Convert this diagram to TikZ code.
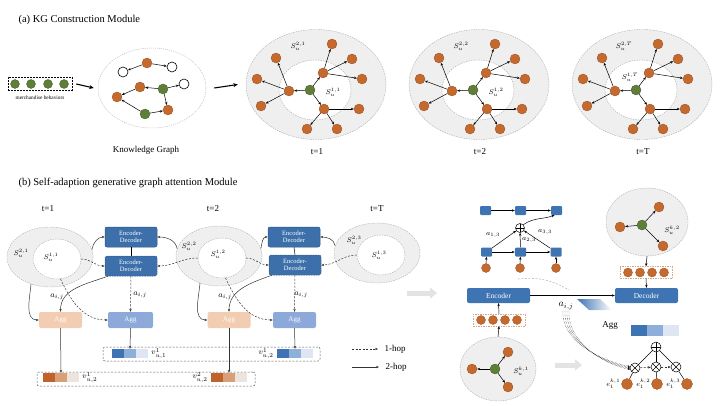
\documentclass[tikz,border=0pt]{standalone}
\usepackage{fontspec}
\setmainfont{Liberation Serif}
\usetikzlibrary{arrows.meta, positioning, calc, shapes.geometric}

\definecolor{nodeOrange}{HTML}{C46A2E}
\definecolor{nodeOrangeDark}{HTML}{9C4C1C}
\definecolor{nodeGreen}{HTML}{5F7F38}
\definecolor{nodeGreenDark}{HTML}{40592A}
\definecolor{ringGray}{HTML}{EFEFEF}
\definecolor{edBlue}{HTML}{3D70AA}
\definecolor{edBlueDark}{HTML}{2A5585}
\definecolor{sqBlue}{HTML}{3F74B3}
\definecolor{aggPeach}{HTML}{F2CDB2}
\definecolor{aggBlue}{HTML}{8DA9DA}
\definecolor{barBlueA}{HTML}{3E74B2}
\definecolor{barBlueB}{HTML}{8EAFD9}
\definecolor{barBlueC}{HTML}{DDE6F2}
\definecolor{barOrA}{HTML}{C0622A}
\definecolor{barOrB}{HTML}{D9A077}
\definecolor{barOrC}{HTML}{EDE4DE}

\begin{document}
\begin{tikzpicture}[
    x=1pt, y=1pt,
    font=\fontsize{8}{9}\selectfont,
    orn/.style={circle, fill=nodeOrange, draw=nodeOrangeDark, line width=0.3pt, inner sep=0pt, minimum size=10pt},
    grn/.style={orn, fill=nodeGreen, draw=nodeGreenDark},
    wht/.style={orn, fill=white, draw=black, line width=0.6pt},
    arr/.style={-{Stealth[length=3pt, width=2.4pt]}, line width=0.5pt},
    bigArr/.style={-{Stealth[length=4.5pt, width=4pt]}, line width=1.1pt},
    ringOut/.style={ellipse, inner sep=0pt, fill=ringGray, draw=gray!65, dash pattern=on 1.5pt off 1pt, line width=0.4pt},
    ringIn/.style={ringOut, fill=white},
    lblS/.style={font=\fontsize{7}{8}\selectfont, inner sep=0pt},
    lblA/.style={font=\fontsize{8.5}{9}\selectfont, inner sep=0pt},
    tLbl/.style={font=\fontsize{9}{10}\selectfont},
    edBox/.style={rounded corners=2pt, fill=edBlue, draw=edBlueDark, line width=0.5pt, text=white, align=center, inner sep=0pt, minimum width=52pt, minimum height=20pt, font=\fontsize{6.5}{7.5}\selectfont},
    edDash/.style={edBox, dash pattern=on 1.5pt off 1pt},
    aggBox/.style={rounded corners=2pt, text=white, inner sep=0pt, minimum height=16pt, font=\fontsize{7}{8}\selectfont},
    codeBox/.style={rounded corners=2pt, fill=sqBlue, text=white, inner sep=0pt, minimum width=63pt, minimum height=15pt, font=\fontsize{7.5}{8}\selectfont},
    hopOne/.style={arr, dash pattern=on 2pt off 1.5pt, draw=black!80},
    hopTwo/.style={arr, draw=black!80},
    seg/.style={rectangle, inner sep=0pt, minimum width=12pt, minimum height=9pt},
    barBox/.style={rectangle, rounded corners=2pt, draw=gray!70!black, dash pattern=on 2pt off 1.5pt, line width=0.5pt, inner sep=0pt},
    inBox/.style={rectangle, draw=nodeOrange!60, dash pattern=on 1.5pt off 1pt, line width=0.5pt, inner sep=0pt, minimum width=52pt, minimum height=12pt},
    blockArr/.style={line width=5pt, draw=gray!22, -{Triangle[length=7pt, width=11pt]}},
    sqBox/.style={rectangle, rounded corners=1pt, fill=sqBlue, inner sep=0pt, minimum width=11pt, minimum height=9pt},
    opPlus/.style={circle, draw, line width=0.5pt, fill=white, inner sep=0pt, minimum size=9pt,
        path picture={\draw[line width=0.5pt] (path picture bounding box.north) -- (path picture bounding box.south)
            (path picture bounding box.west) -- (path picture bounding box.east);}},
    opTimes/.style={circle, draw, line width=0.5pt, fill=white, inner sep=0pt, minimum size=9pt,
        path picture={\draw[line width=0.5pt] (path picture bounding box.north west) -- (path picture bounding box.south east)
            (path picture bounding box.south west) -- (path picture bounding box.north east);}}
]
\useasboundingbox (0,0) rectangle (722,-406);

% (a) KG construction
\node[anchor=west, font=\fontsize{10.5}{12}\selectfont] (titleA) at (15,-20) {(a) KG Construction Module};

\node[draw, line width=0.5pt, dash pattern=on 2pt off 1pt, inner sep=0pt, minimum width=64pt, minimum height=13pt] (behav) at (40,-84) {};
\foreach \x [count=\i] in {15,31,48,64}
    \node[grn, minimum size=9pt] (beh\i) at (\x,-84) {};
\node[font=\fontsize{5.3}{6}\selectfont, below=1.5pt of behav] (behavLbl) {merchandise behaviors};

\node[ellipse, draw=gray!55, dash pattern=on 1pt off 1pt, line width=0.5pt, minimum width=108pt, minimum height=80pt, inner sep=0pt] (kg) at (152,-88) {};
\node[orn] (kg1) at (147,-63) {};
\node[wht] (kg2) at (172,-67) {};
\node[wht] (kg3) at (123,-72) {};
\node[orn] (kg4) at (140,-87) {};
\node[grn] (kg5) at (163,-89) {};
\node[wht] (kg6) at (184,-84) {};
\node[orn] (kg7) at (117,-97) {};
\node[orn] (kg8) at (168,-110) {};
\node[grn] (kg9) at (145,-114) {};
\foreach \a/\b in {kg1/kg2, kg1/kg3, kg5/kg4, kg5/kg6, kg4/kg7, kg9/kg7, kg5/kg8, kg9/kg8}
    \draw[arr] (\a) -- (\b);
\node[tLbl] (kgLbl) at (146,-150) {Knowledge Graph};
\draw[bigArr] ([xshift=4pt]behav.east) -- ([xshift=-4pt]kg.west);

% hop rings for each time step
\foreach \cx/\tn/\lx/\ly in {316/1/17/92, 479/2/17/92, 642/T/-12/77} {
    \node[ringOut, minimum width=140pt, minimum height=110pt] (ro\tn) at (\cx,-84.5) {};
    \node[ringIn, minimum width=72pt, minimum height=60pt] (ri\tn) at (\cx-1,-90) {};
    \node[grn] (c\tn) at (\cx-6,-90) {};
    \node[orn] (h\tn-a) at (\cx-27,-91) {};
    \node[orn] (h\tn-b) at (\cx+7,-73) {};
    \node[orn] (h\tn-c) at (\cx+8,-109) {};
    \foreach \h in {a,b,c}
        \draw[arr] (c\tn) -- (h\tn-\h);
    \foreach \h/\dx/\dy [count=\k] in {a/-40/58, a/-59/79, a/-55/106, b/16/44, b/36/59, b/46/79, c/43/109, c/-9/129, c/21/129} {
        \node[orn] (l\tn-\k) at (\cx+\dx,-\dy) {};
        \draw[arr] (h\tn-\h) -- (l\tn-\k);
    }
    \node[lblS] (so\tn) at (\cx-18,-46) {$S_u^{2,\tn}$};
    \node[lblS] (si\tn) at (\cx+\lx,-\ly) {$S_u^{1,\tn}$};
    \node[tLbl] (tl\tn) at (\cx+1,-152) {t=\tn};
}
\draw[bigArr] ([xshift=8pt]kg.east) -- ([xshift=-8pt]ro1.west);

% (b) self-adaption generative graph attention
\node[anchor=west, font=\fontsize{10.5}{12}\selectfont] (titleB) at (15,-183) {(b) Self-adaption generative graph attention Module};
\node[tLbl] (tb1) at (48,-209) {t=1};
\node[tLbl] (tb2) at (213,-209) {t=2};
\node[tLbl] (tb3) at (377,-209) {t=T};

\foreach \n/\ox/\oy/\ix/\iy/\ax/\ay/\bx/\by in {1/50/257/57/259/21/253/51/257, 2/219/256/222/258/189/246/218/254, 3/377/253/381/255/354/240/379/255} {
    \node[ringOut, minimum width=86pt, minimum height=60pt] (eo\n) at (\ox,-\oy) {};
    \node[ringIn, minimum width=48pt, minimum height=40pt] (ei\n) at (\ix,-\iy) {};
    \node[lblS] (eso\n) at (\ax,-\ay) {$S_u^{2,\n}$};
    \node[lblS] (esi\n) at (\bx,-\by) {$S_u^{1,\n}$};
}

\node[edBox] (ed1t) at (131,-237) {Encoder-\\Decoder};
\node[edDash] (ed1b) at (131,-266) {Encoder-\\Decoder};
\node[edBox] (ed2t) at (294,-237) {Encoder-\\Decoder};
\node[edDash] (ed2b) at (295,-265) {Encoder-\\Decoder};
\draw[line width=0.5pt] (ed1t.south) -- (ed1b.north);
\draw[line width=0.5pt] (ed2t.south) -- (ed2b.north);

\draw[hopTwo] (eo1.10) to[out=80, in=180] (ed1t.west);
\draw[hopTwo] (eo2.170) to[out=100, in=0] (ed1t.east);
\draw[hopOne] (ei1.east) to[out=0, in=180] (ed1b.west);
\draw[hopOne] (ei2.west) to[out=180, in=0] (ed1b.east);
\draw[hopTwo] (eo2.10) to[out=80, in=180] (ed2t.west);
\draw[hopTwo] (eo3.170) to[out=100, in=0] (ed2t.east);
\draw[hopOne] (ei2.east) to[out=0, in=180] (ed2b.west);
\draw[hopOne] (ei3.west) to[out=180, in=0] (ed2b.east);

\node[aggBox, fill=aggPeach, minimum width=43pt] (agg1) at (60.5,-320) {Agg};
\node[aggBox, fill=aggBlue, minimum width=45pt] (agg2) at (130.5,-320) {Agg};
\node[aggBox, fill=aggPeach, minimum width=43pt] (agg3) at (229,-320) {Agg};
\node[aggBox, fill=aggBlue, minimum width=43pt] (agg4) at (294.5,-320) {Agg};

\draw[hopTwo] (eo1.235) to[out=-95, in=180] (agg1.west);
\draw[hopTwo] ([xshift=3pt]ed1b.south west) to[out=200, in=90] (agg1.north);
\draw[hopOne] (ei1.280) to[out=-65, in=180] (agg2.west);
\draw[hopOne] (ed1b.south) -- (agg2.north);
\draw[hopTwo] (eo2.235) to[out=-95, in=180] (agg3.west);
\draw[hopTwo] ([xshift=3pt]ed2b.south west) to[out=200, in=90] (agg3.north);
\draw[hopOne] (ei2.280) to[out=-65, in=180] (agg4.west);
\draw[hopOne] (ed2b.south) -- (agg4.north);

\node[lblA] (aij1) at (57,-297) {$a_{i,j}$};
\node[lblA] (aij2) at (140,-295) {$a_{i,j}$};
\node[lblA] (aij3) at (225,-297) {$a_{i,j}$};
\node[lblA] (aij4) at (301,-295) {$a_{i,j}$};

% output vectors
\node[barBox, minimum width=217pt, minimum height=14pt] (vBlue) at (211.5,-354) {};
\node[barBox, minimum width=218pt, minimum height=14pt] (vOr) at (146,-379) {};
\foreach \c [count=\i] in {barBlueA,barBlueB,barBlueC} {
    \node[seg, fill=\c] (pa\i) at (106+12*\i,-353.5) {};
    \node[seg, fill=\c] (pb\i) at (271+12*\i,-353.5) {};
}
\foreach \c [count=\i] in {barOrA,barOrB,barOrC} {
    \node[seg, fill=\c] (qa\i) at (37+12*\i,-377.5) {};
    \node[seg, fill=\c] (qb\i) at (205+12*\i,-377.5) {};
}
\draw[hopTwo] (agg2.south) -- (pa2.north);
\draw[hopTwo] (agg4.south) -- (pb2.north);
\draw[hopTwo] (agg1.south) -- (qa2.north);
\draw[hopTwo] (agg3.south) -- (qb2.north);
\node[lblA, right=3pt of pa3] (va) {$v_{u,1}^{1}$};
\node[lblA, left=3pt of pb1] (vb) {$v_{u,2}^{1}$};
\node[lblA, right=3pt of qa3] (vc) {$v_{u,2}^{1}$};
\node[lblA, left=3pt of qb1] (vd) {$v_{u,2}^{2}$};

% legend
\coordinate (lg1s) at (352,-349);
\coordinate (lg1e) at (378,-349);
\coordinate (lg2s) at (352,-367);
\coordinate (lg2e) at (379,-367);
\draw[hopOne] (lg1s) -- (lg1e);
\draw[hopTwo] (lg2s) -- (lg2e);
\node[tLbl, right=3pt of lg1e] (lg1t) {1-hop};
\node[tLbl, right=3pt of lg2e] (lg2t) {2-hop};

% grey transition arrows
\coordinate (ga1s) at (407,-293);
\coordinate (ga1e) at (437,-293);
\coordinate (ga2s) at (555,-365);
\coordinate (ga2e) at (582,-365);
\draw[blockArr] (ga1s) -- (ga1e);
\draw[blockArr] (ga2s) -- (ga2e);

% attention over time steps
\node[sqBox] (tA) at (485.5,-210.5) {};
\node[sqBox] (tB) at (520.5,-210.5) {};
\node[sqBox] (tC) at (556.5,-210.5) {};
\node[sqBox] (mA) at (486.5,-252) {};
\node[sqBox] (mB) at (520.5,-252) {};
\node[sqBox] (mC) at (556,-252) {};
\node[orn, minimum size=9pt] (cA) at (486,-268) {};
\node[orn, minimum size=9pt] (cB) at (520,-268) {};
\node[orn, minimum size=9pt] (cC) at (556,-268) {};
\node[opPlus] (op1) at (520,-228) {};
\foreach \a/\b in {tA/tB, tB/tC, mA/mB, mB/mC, cA/mA, cB/mB, cC/mC, mA/op1, mB/op1, mC/op1}
    \draw[arr] (\a) -- (\b);
\draw[arr] (op1.45) to[out=35, in=200] ([xshift=-2pt]tC.south);
\node[lblS] (a13) at (493,-235) {$a_{1,3}$};
\node[lblS] (a23) at (529,-240) {$a_{2,3}$};
\node[lblS] (a33) at (545,-232) {$a_{3,3}$};

\node[codeBox] (enc) at (498.5,-295.5) {Encoder};
\node[codeBox] (dec) at (646.5,-295.5) {Decoder};
\draw[arr, line width=0.7pt] (enc.east) -- (dec.west);
\node[font=\fontsize{10}{11}\selectfont, inner sep=0pt] (aijR) at (566,-306) {$a_{i,j}$};
\shade[left color=sqBlue, right color=white] (577,-299) -- (600,-299) -- (612,-310) -- (589,-310) -- cycle;

\coordinate (arcS) at (518,-279);
\coordinate (arcE) at (569,-290);
\draw[gray!55, dash pattern=on 2pt off 1.5pt, line width=0.6pt] (arcS) to[bend left=18] (arcE);

\node[tLbl] (aggR) at (610,-325) {Agg};
\foreach \c [count=\i] in {barBlueA,barBlueB,barBlueC}
    \node[seg, fill=\c, minimum width=16pt, minimum height=11pt] (ra\i) at (623+16*\i,-330.5) {};

% decoder side graph
\node[ringOut, minimum width=82pt, minimum height=68pt] (ek2) at (647,-222) {};
\node[grn] (gk2) at (642,-225) {};
\node[orn] (ok2a) at (659,-207) {};
\node[orn] (ok2b) at (620,-227) {};
\node[orn] (ok2c) at (663,-246) {};
\foreach \b in {ok2a, ok2b, ok2c}
    \draw[arr] (gk2) -- (\b);
\node[lblS] (sk2) at (672,-230) {$S_u^{k,2}$};
\node[inBox] (dIn) at (646,-272.5) {};
\foreach \x [count=\i] in {628,640,652,664}
    \node[orn, minimum size=9pt] (dn\i) at (\x,-272.5) {};
\draw[arr] (ek2.south) -- (dIn.north);
\draw[arr] (dIn.south) -- (dec.north);

% encoder side graph
\node[inBox] (eIn) at (499,-320) {};
\foreach \x [count=\i] in {481,493,505,517}
    \node[orn, minimum size=9pt] (en\i) at (\x,-320) {};
\node[ringOut, minimum width=76pt, minimum height=64pt] (ek1) at (498,-369) {};
\node[grn] (gk1) at (495,-369) {};
\node[orn] (ok1a) at (508,-352) {};
\node[orn] (ok1b) at (472,-369) {};
\node[orn] (ok1c) at (508,-387) {};
\foreach \b in {ok1a, ok1b, ok1c}
    \draw[arr] (gk1) -- (\b);
\node[lblS] (sk1) at (521,-371) {$S_u^{k,1}$};
\draw[arr] (ek1.north) -- (eIn.south);
\draw[arr] (eIn.north) -- (enc.south);

% weighted aggregation
\node[opPlus, minimum size=10pt] (op2) at (656,-347) {};
\node[opTimes, minimum size=10pt] (x1) at (635,-368) {};
\node[opTimes, minimum size=10pt] (x2) at (656,-367) {};
\node[opTimes, minimum size=10pt] (x3) at (676,-367) {};
\node[orn, minimum size=11pt] (e1) at (627,-384) {};
\node[orn, minimum size=11pt] (e2) at (657,-384) {};
\node[orn, minimum size=11pt] (e3) at (687,-384) {};
\node[lblS, left=1pt of e1] (el1) {$e_1^{k,1}$};
\node[lblS, left=1pt of e2] (el2) {$e_1^{k,2}$};
\node[lblS, left=1pt of e3] (el3) {$e_1^{k,3}$};
\foreach \a/\b in {e1/x1, e2/x2, e3/x3, x1/op2, x2/op2, x3/op2}
    \draw[line width=0.5pt] (\a) -- (\b);
\draw[hopOne] (x1) -- (x2);
\draw[hopOne] (x2) -- (x3);
\foreach \d/\s in {-3/1.5, -1/0.5, 1/-0.5, 3/-1.5}
    \draw[-{Stealth[length=2pt, width=1.6pt]}, densely dotted, line width=0.4pt] ([xshift=\d pt]aijR.south) to[out=-95, in=168, looseness=0.9] ([yshift=\s pt]x1.west);

\end{tikzpicture}
\end{document}
